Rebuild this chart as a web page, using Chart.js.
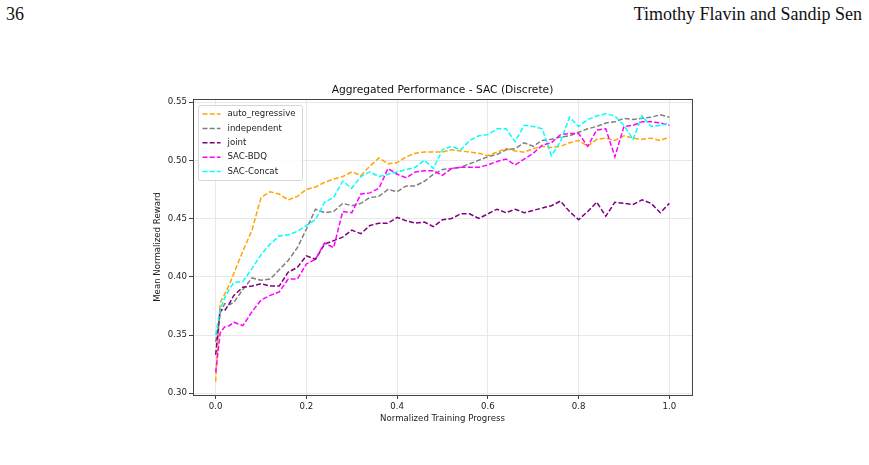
<!DOCTYPE html>
<html>
<head>
<meta charset="utf-8">
<script src="https://cdn.jsdelivr.net/npm/chart.js@4.4.1/dist/chart.umd.min.js"></script>
<style>
  html, body { margin: 0; padding: 0; background: #fff; }
  body { width: 869px; height: 465px; position: relative; overflow: hidden; }
  #chart { position: absolute; left: 0; top: 0; }
  .hdr { position: absolute; top: 5px; font-family: "Liberation Serif", serif; font-size: 18px; line-height: 18px; color: #111; }
</style>
</head>
<body>
<div class="hdr" style="left:6px">36</div>
<div class="hdr" style="right:7px">Timothy Flavin and Sandip Sen</div>
<canvas id="chart" width="869" height="465"></canvas>
<script>
// x positions (normalized training progress)
const progress = [0, 0.01, 0.02, 0.03, 0.04,
  0.06, 0.08, 0.10, 0.12, 0.14, 0.16, 0.18, 0.20, 0.22, 0.24,
  0.26, 0.28, 0.30, 0.32, 0.34, 0.36, 0.38, 0.40, 0.42, 0.44,
  0.46, 0.48, 0.50, 0.52, 0.54, 0.56, 0.58, 0.60, 0.62, 0.64,
  0.66, 0.68, 0.70, 0.72, 0.74, 0.76, 0.78, 0.80, 0.82, 0.84,
  0.86, 0.88, 0.90, 0.92, 0.94, 0.96, 0.98, 1.00];

const autoRegressive = [0.310, 0.378, 0.385, 0.393, 0.403,
  0.422, 0.440, 0.468, 0.473, 0.471, 0.466, 0.469, 0.475, 0.477, 0.481,
  0.484, 0.486, 0.490, 0.487, 0.495, 0.502, 0.497, 0.498, 0.503, 0.506,
  0.507, 0.507, 0.507, 0.509, 0.508, 0.507, 0.506, 0.504, 0.507, 0.510,
  0.508, 0.507, 0.510, 0.512, 0.511, 0.512, 0.515, 0.517, 0.512, 0.518,
  0.519, 0.517, 0.521, 0.519, 0.518, 0.519, 0.517, 0.520];

const independent = [0.344, 0.369, 0.377, 0.376, 0.378,
  0.389, 0.399, 0.397, 0.398, 0.406, 0.414, 0.425, 0.441, 0.458, 0.455,
  0.456, 0.463, 0.461, 0.463, 0.468, 0.469, 0.475, 0.473, 0.478, 0.478,
  0.482, 0.488, 0.492, 0.493, 0.494, 0.497, 0.500, 0.503, 0.505, 0.509,
  0.510, 0.515, 0.512, 0.517, 0.518, 0.520, 0.521, 0.524, 0.527, 0.529,
  0.532, 0.533, 0.536, 0.535, 0.536, 0.537, 0.539, 0.537];

const joint = [0.333, 0.372, 0.371, 0.377, 0.384,
  0.391, 0.392, 0.394, 0.392, 0.392, 0.404, 0.408, 0.418, 0.415, 0.428,
  0.431, 0.434, 0.440, 0.437, 0.444, 0.446, 0.446, 0.451, 0.448, 0.446,
  0.447, 0.443, 0.449, 0.450, 0.454, 0.454, 0.450, 0.454, 0.458, 0.455,
  0.458, 0.455, 0.457, 0.459, 0.461, 0.465, 0.456, 0.449, 0.456, 0.464,
  0.452, 0.464, 0.463, 0.462, 0.466, 0.463, 0.455, 0.463];

const sacBdq = [0.318, 0.352, 0.357, 0.358, 0.361,
  0.358, 0.370, 0.380, 0.384, 0.387, 0.398, 0.398, 0.411, 0.415, 0.429,
  0.425, 0.456, 0.455, 0.471, 0.472, 0.476, 0.493, 0.488, 0.485, 0.490,
  0.491, 0.491, 0.487, 0.493, 0.494, 0.494, 0.494, 0.496, 0.499, 0.501,
  0.496, 0.501, 0.506, 0.513, 0.515, 0.522, 0.523, 0.523, 0.512, 0.526,
  0.527, 0.503, 0.529, 0.530, 0.533, 0.533, 0.532, 0.530];

const sacConcat = [0.350, 0.372, 0.382, 0.389, 0.395,
  0.396, 0.407, 0.419, 0.428, 0.435, 0.436, 0.439, 0.444, 0.449, 0.464,
  0.468, 0.482, 0.476, 0.486, 0.490, 0.486, 0.488, 0.490, 0.492, 0.494,
  0.500, 0.493, 0.509, 0.512, 0.509, 0.517, 0.521, 0.522, 0.527, 0.527,
  0.516, 0.530, 0.529, 0.527, 0.504, 0.516, 0.537, 0.529, 0.535, 0.538,
  0.540, 0.538, 0.530, 0.518, 0.538, 0.529, 0.530, 0.532];

const seriesNames = ["auto_regressive", "independent", "joint", "SAC-BDQ", "SAC-Concat"];
const seriesColors = ["#ffa500", "#808080", "#800080", "#ff00ff", "#00ffff"];
const seriesValues = [autoRegressive, independent, joint, sacBdq, sacConcat];

const xTicks = [0.0, 0.2, 0.4, 0.6, 0.8, 1.0];
const yTicks = [0.30, 0.35, 0.40, 0.45, 0.50, 0.55];

const FONT = "'DejaVu Sans', sans-serif";
Chart.defaults.font.family = FONT;
Chart.defaults.color = "#222";

const dash = [5, 2.2];
const small = 8.6;

// frame, title and legend box drawn like matplotlib
const mplLook = {
  id: "mplLook",
  afterDraw(chart) {
    const { ctx, chartArea: a } = chart;
    ctx.save();
    ctx.strokeStyle = "#444";
    ctx.lineWidth = 1;
    ctx.strokeRect(a.left + 0.5, a.top + 0.5, a.right - a.left, a.bottom - a.top);

    ctx.fillStyle = "#111";
    ctx.font = "10.7px " + FONT;
    ctx.textAlign = "center";
    ctx.textBaseline = "middle";
    ctx.fillText("Aggregated Performance - SAC (Discrete)", (a.left + a.right) / 2, a.top - 9);

    // legend
    const lx = a.left + 5.5, ly = a.top + 6.5, lw = 104, lh = 75;
    ctx.beginPath();
    ctx.roundRect(lx, ly, lw, lh, 2);
    ctx.fillStyle = "rgba(255,255,255,0.85)";
    ctx.fill();
    ctx.strokeStyle = "#d6d6d6";
    ctx.stroke();
    ctx.font = small + "px " + FONT;
    ctx.textAlign = "left";
    chart.data.datasets.forEach((ds, i) => {
      const y = ly + 8.5 + i * 14.4;
      ctx.beginPath();
      ctx.setLineDash(dash);
      ctx.strokeStyle = ds.borderColor;
      ctx.lineWidth = 1.5;
      ctx.moveTo(lx + 4, y);
      ctx.lineTo(lx + 22, y);
      ctx.stroke();
      ctx.setLineDash([]);
      ctx.fillStyle = "#222";
      ctx.fillText(ds.label, lx + 29, y);
    });
    ctx.restore();
  }
};

new Chart(document.getElementById("chart"), {
  type: "line",
  data: {
    datasets: seriesNames.map((name, i) => ({
      label: name,
      data: progress.map((x, j) => ({ x: x, y: seriesValues[i][j] })),
      borderColor: seriesColors[i],
      borderWidth: 1.5,
      borderDash: dash,
      pointRadius: 0,
      fill: false,
      tension: 0,
      order: seriesNames.length - 1 - i,
    })),
  },
  options: {
    responsive: false,
    animation: false,
    devicePixelRatio: 1,
    layout: { padding: { left: 133, right: 177, top: 99, bottom: 30 } },
    plugins: { legend: { display: false }, title: { display: false }, tooltip: { enabled: false } },
    scales: {
      x: {
        type: "linear",
        min: -0.05,
        max: 1.05,
        afterFit: (s) => { s.height = 40; },
        afterBuildTicks: (s) => { s.ticks = xTicks.map((v) => ({ value: v })); },
        ticks: { autoSkip: false, maxRotation: 0, padding: 3, font: { size: small }, color: "#222",
          callback: (v) => v.toFixed(1) },
        grid: { color: "#e8e8e8", tickColor: "#444", tickLength: 4 },
        border: { display: false },
        title: { display: true, text: "Normalized Training Progress", font: { size: small }, color: "#222",
          padding: { top: 0, bottom: 11 } },
      },
      y: {
        min: 0.2985,
        max: 0.5526,
        afterFit: (s) => { s.width = 60; },
        afterBuildTicks: (s) => { s.ticks = yTicks.map((v) => ({ value: v })); },
        ticks: { autoSkip: false, padding: 2, font: { size: small }, color: "#222",
          callback: (v) => v.toFixed(2) },
        grid: { color: "#e8e8e8", tickColor: "#444", tickLength: 4 },
        border: { display: false },
        title: { display: true, text: "Mean Normalized Reward", font: { size: small }, color: "#222",
          padding: { top: 20, bottom: 0 } },
      },
    },
  },
  plugins: [mplLook],
});
</script>
</body>
</html>
